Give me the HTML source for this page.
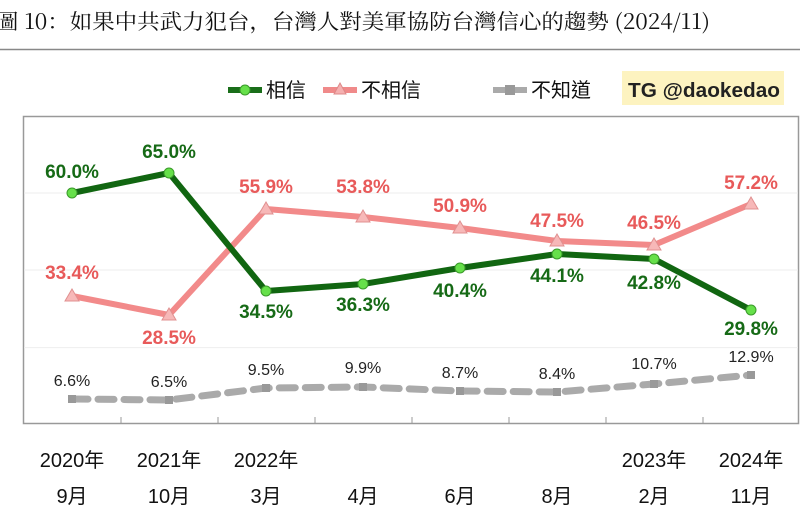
<!DOCTYPE html>
<html><head><meta charset="utf-8"><style>
body{margin:0;width:800px;height:521px;background:#fff;overflow:hidden}
svg{display:block}
</style></head><body>
<svg width="800" height="521" viewBox="0 0 800 521" font-family="'Liberation Sans','Noto Sans CJK TC',sans-serif">
<text x="-4" y="29" font-family="'Noto Serif CJK SC','Liberation Serif',serif" font-size="21" fill="#111" textLength="714" lengthAdjust="spacingAndGlyphs">圖 10：如果中共武力犯台，台灣人對美軍協防台灣信心的趨勢 (2024/11)</text>
<line x1="0" y1="49.5" x2="800" y2="49.5" stroke="#888" stroke-width="1.5"/>
<!-- legend -->
<line x1="228" y1="90" x2="262" y2="90" stroke="#1a6e1a" stroke-width="6"/>
<circle cx="245" cy="90" r="5" fill="#66e04a" stroke="#3a9a2a"/>
<text x="266" y="97" font-size="20" fill="#111">相信</text>
<line x1="323" y1="90" x2="357" y2="90" stroke="#f08a8a" stroke-width="6"/>
<polygon points="340,83 346,94 334,94" fill="#f5b0b0" stroke="#d88"/>
<text x="361" y="97" font-size="20" fill="#111">不相信</text>
<line x1="493" y1="90" x2="527" y2="90" stroke="#aaa" stroke-width="6"/>
<rect x="505" y="85" width="10" height="10" fill="#999"/>
<text x="531" y="97" font-size="20" fill="#111">不知道</text>
<rect x="622" y="71" width="162" height="34" fill="#fdf3c0"/>
<text x="628" y="97" font-size="20" font-weight="bold" fill="#222" textLength="152" lengthAdjust="spacingAndGlyphs">TG @daokedao</text>
<!-- plot frame -->
<rect x="23.5" y="116.5" width="775" height="307" fill="none" stroke="#999" stroke-width="1.5"/>
<g stroke="#eee" stroke-width="1"><line x1="24" y1="193" x2="798" y2="193"/><line x1="24" y1="270" x2="798" y2="270"/><line x1="24" y1="347.6" x2="798" y2="347.6"/></g>
<g stroke="#999" stroke-width="1"><line x1="121" y1="417" x2="121" y2="423"/><line x1="218" y1="417" x2="218" y2="423"/><line x1="315" y1="417" x2="315" y2="423"/><line x1="412" y1="417" x2="412" y2="423"/><line x1="509" y1="417" x2="509" y2="423"/><line x1="606" y1="417" x2="606" y2="423"/><line x1="703" y1="417" x2="703" y2="423"/></g>
<!-- gray series -->
<polyline points="72,399 169,400 266,388 363,387 460,391 557,392 654,384 751,375" fill="none" stroke="#aaa" stroke-width="7" stroke-dasharray="16,10" stroke-linecap="round" stroke-linejoin="round"/>
<g fill="#999"><rect x="68" y="395" width="8" height="8"/><rect x="165" y="396" width="8" height="8"/><rect x="262" y="384" width="8" height="8"/><rect x="359" y="383" width="8" height="8"/><rect x="456" y="387" width="8" height="8"/><rect x="553" y="388" width="8" height="8"/><rect x="650" y="380" width="8" height="8"/><rect x="747" y="371" width="8" height="8"/></g>
<!-- pink -->
<polyline points="72,296 169,315 266,209 363,217 460,228 557,241 654,245 751,204" fill="none" stroke="#f28a8a" stroke-width="6" stroke-linejoin="round"/>
<g fill="#f7b8b8" stroke="#e09090"><polygon points="72,289 79,301 65,301"/><polygon points="169,308 176,320 162,320"/><polygon points="266,202 273,214 259,214"/><polygon points="363,210 370,222 356,222"/><polygon points="460,221 467,233 453,233"/><polygon points="557,234 564,246 550,246"/><polygon points="654,238 661,250 647,250"/><polygon points="751,197 758,209 744,209"/></g>
<!-- green -->
<polyline points="72,193 169,173 266,291 363,284 460,268 557,254 654,259 751,310" fill="none" stroke="#116611" stroke-width="6" stroke-linejoin="round"/>
<g fill="#66e04a" stroke="#3a9a2a" stroke-width="1"><circle cx="72" cy="193" r="5"/><circle cx="169" cy="173" r="5"/><circle cx="266" cy="291" r="5"/><circle cx="363" cy="284" r="5"/><circle cx="460" cy="268" r="5"/><circle cx="557" cy="254" r="5"/><circle cx="654" cy="259" r="5"/><circle cx="751" cy="310" r="5"/></g>
<!-- labels -->
<g font-size="19" font-weight="bold" fill="#166a16" text-anchor="middle">
<text x="72" y="178">60.0%</text><text x="169" y="158">65.0%</text><text x="266" y="318">34.5%</text><text x="363" y="311">36.3%</text><text x="460" y="297">40.4%</text><text x="557" y="282">44.1%</text><text x="654" y="289">42.8%</text><text x="751" y="335">29.8%</text></g>
<g font-size="19" font-weight="bold" fill="#e85a5a" text-anchor="middle">
<text x="72" y="279">33.4%</text><text x="169" y="344">28.5%</text><text x="266" y="193">55.9%</text><text x="363" y="193">53.8%</text><text x="460" y="212">50.9%</text><text x="557" y="227">47.5%</text><text x="654" y="229">46.5%</text><text x="751" y="189">57.2%</text></g>
<g font-size="16" fill="#222" text-anchor="middle">
<text x="72" y="386">6.6%</text><text x="169" y="387">6.5%</text><text x="266" y="375">9.5%</text><text x="363" y="373">9.9%</text><text x="460" y="378">8.7%</text><text x="557" y="379">8.4%</text><text x="654" y="369">10.7%</text><text x="751" y="362">12.9%</text></g>
<!-- x labels -->
<g font-size="20" fill="#111" text-anchor="middle">
<text x="72" y="467">2020年</text><text x="169" y="467">2021年</text><text x="266" y="467">2022年</text><text x="654" y="467">2023年</text><text x="751" y="467">2024年</text>
<text x="72" y="503">9月</text><text x="169" y="503">10月</text><text x="266" y="503">3月</text><text x="363" y="503">4月</text><text x="460" y="503">6月</text><text x="557" y="503">8月</text><text x="654" y="503">2月</text><text x="751" y="503">11月</text></g>
</svg>
</body></html>
